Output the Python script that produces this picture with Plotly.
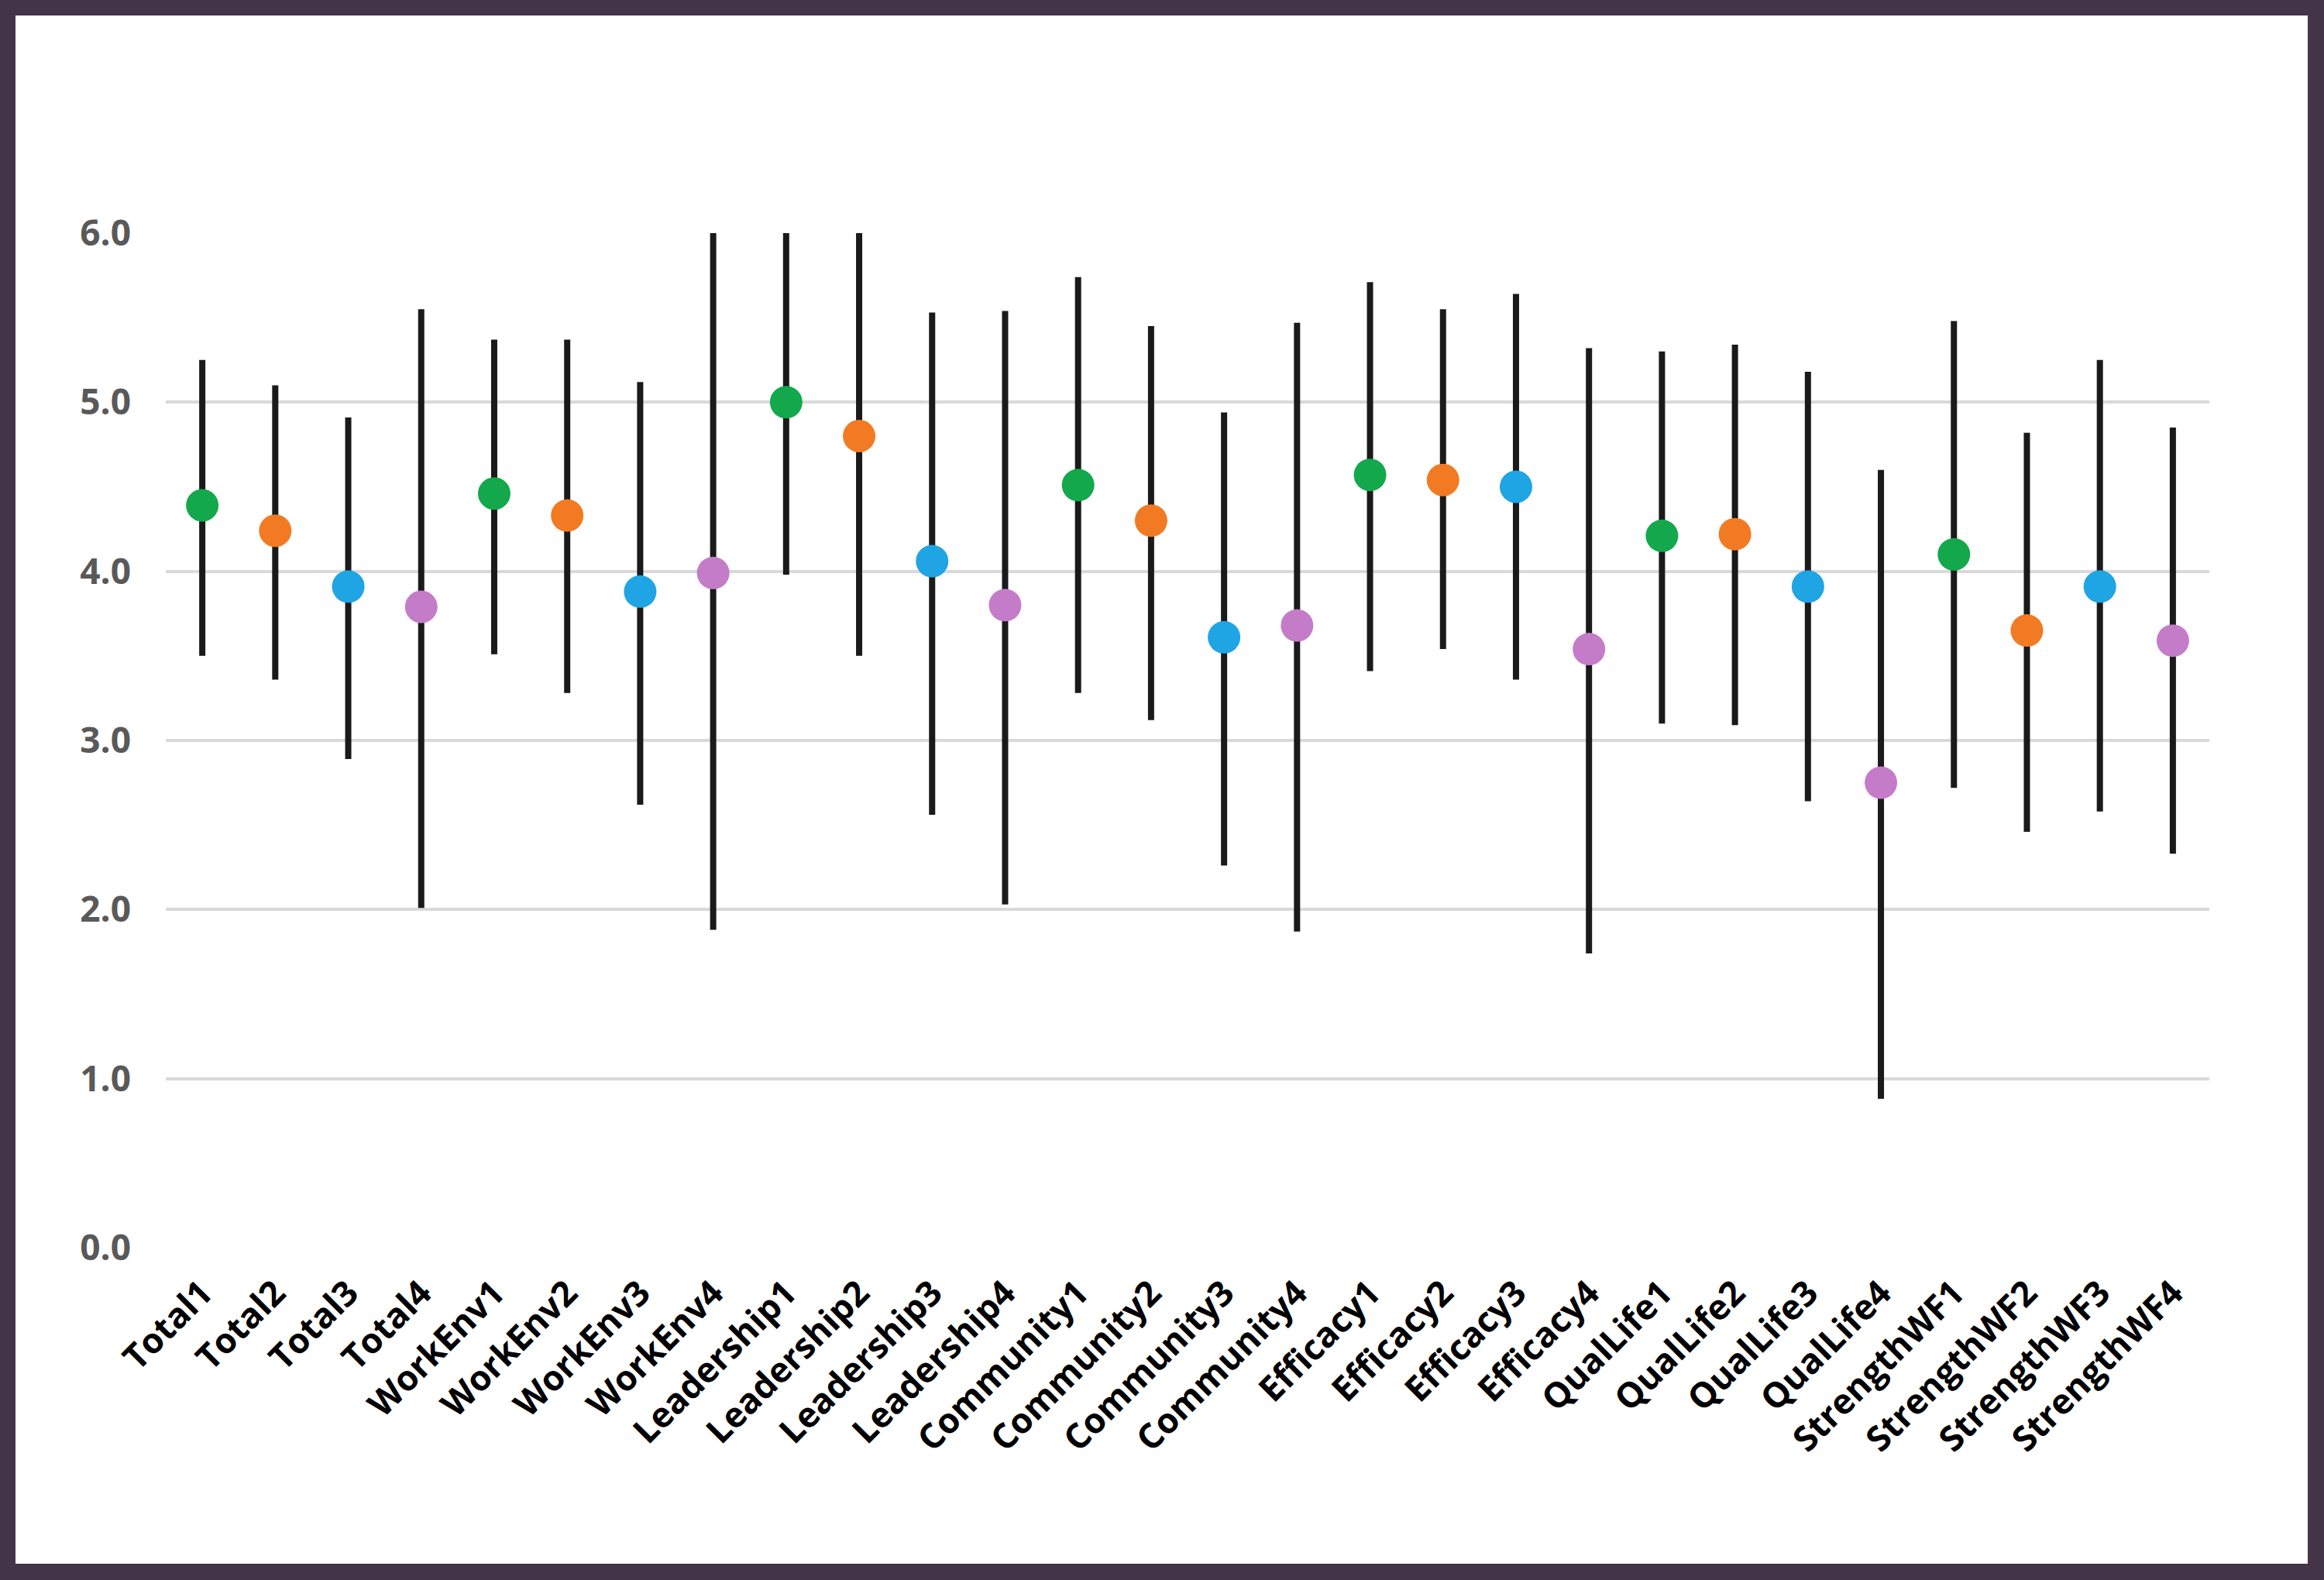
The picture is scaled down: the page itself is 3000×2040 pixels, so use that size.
import plotly.graph_objects as go

categories = [
    "Total1", "Total2", "Total3", "Total4",
    "WorkEnv1", "WorkEnv2", "WorkEnv3", "WorkEnv4",
    "Leadership1", "Leadership2", "Leadership3", "Leadership4",
    "Community1", "Community2", "Community3", "Community4",
    "Efficacy1", "Efficacy2", "Efficacy3", "Efficacy4",
    "QualLife1", "QualLife2", "QualLife3", "QualLife4",
    "StrengthWF1", "StrengthWF2", "StrengthWF3", "StrengthWF4",
]

mean_values = [
    4.39, 4.24, 3.91, 3.79,
    4.46, 4.33, 3.88, 3.99,
    5.00, 4.80, 4.06, 3.80,
    4.51, 4.30, 3.61, 3.68,
    4.57, 4.54, 4.50, 3.54,
    4.21, 4.22, 3.91, 2.75,
    4.10, 3.65, 3.91, 3.59,
]

upper_values = [
    5.25, 5.10, 4.91, 5.55,
    5.37, 5.37, 5.12, 6.00,
    6.00, 6.00, 5.53, 5.54,
    5.74, 5.45, 4.94, 5.47,
    5.71, 5.55, 5.64, 5.32,
    5.30, 5.34, 5.18, 4.60,
    5.48, 4.82, 5.25, 4.85,
]

lower_values = [
    3.50, 3.36, 2.89, 2.01,
    3.51, 3.28, 2.62, 1.88,
    3.98, 3.50, 2.56, 2.03,
    3.28, 3.12, 2.26, 1.87,
    3.41, 3.54, 3.36, 1.74,
    3.10, 3.09, 2.64, 0.88,
    2.72, 2.46, 2.58, 2.33,
]

y_ticks = [0, 1, 2, 3, 4, 5, 6]
group_colors = ["#13a84b", "#f27a22", "#1fa4e4", "#c47cc8"]

W, H = 3000, 2040
ML, MR, MT, MB = 214, 148, 301, 429
plot_w = W - ML - MR
plot_h = H - MT - MB

marker_colors = [group_colors[i % 4] for i in range(len(categories))]
err_plus = [u - m for u, m in zip(upper_values, mean_values)]
err_minus = [m - l for m, l in zip(mean_values, lower_values)]

fig = go.Figure()
fig.add_trace(go.Scatter(
    x=categories,
    y=mean_values,
    mode="markers",
    marker=dict(size=42, color=marker_colors, line=dict(width=0)),
    error_y=dict(type="data", symmetric=False, array=err_plus, arrayminus=err_minus,
                 color="#1a1a1a", thickness=8, width=0),
    cliponaxis=False,
    showlegend=False,
))

# white card inside the dark frame
def px_to_paper_x(px):
    return (px - ML) / plot_w

def px_to_paper_y(py):
    return (H - MB - py) / plot_h

fig.add_shape(type="rect", xref="paper", yref="paper",
              x0=px_to_paper_x(20), x1=px_to_paper_x(2979),
              y0=px_to_paper_y(2019), y1=px_to_paper_y(20),
              fillcolor="white", line=dict(width=0), layer="below")

fig.update_layout(
    width=W, height=H,
    margin=dict(l=ML, r=MR, t=MT, b=MB),
    paper_bgcolor="#433447",
    plot_bgcolor="rgba(0,0,0,0)",
    font=dict(family="Open Sans", size=44),
)
fig.update_xaxes(
    type="category",
    categoryorder="array", categoryarray=categories,
    range=[-0.5, len(categories) - 0.5],
    showgrid=False, zeroline=False, showline=False,
    tickangle=-45,
    tickfont=dict(family="Open Sans", size=45, color="#000000", weight="bold"),
    ticks="", ticklabelstandoff=22,
)
fig.update_yaxes(
    range=[0, 6],
    tickvals=y_ticks, tickformat=".1f",
    showgrid=True, gridcolor="#d9d9d9", gridwidth=4,
    zeroline=False, showline=False,
    tickfont=dict(family="Open Sans", size=46, color="#595959", weight="bold"),
    ticks="", ticklabelstandoff=44,
)

fig.write_html(
    "out.html",
    config={"displayModeBar": False},
    post_script="document.body.style.margin='0';document.body.style.background='#433447';",
)
